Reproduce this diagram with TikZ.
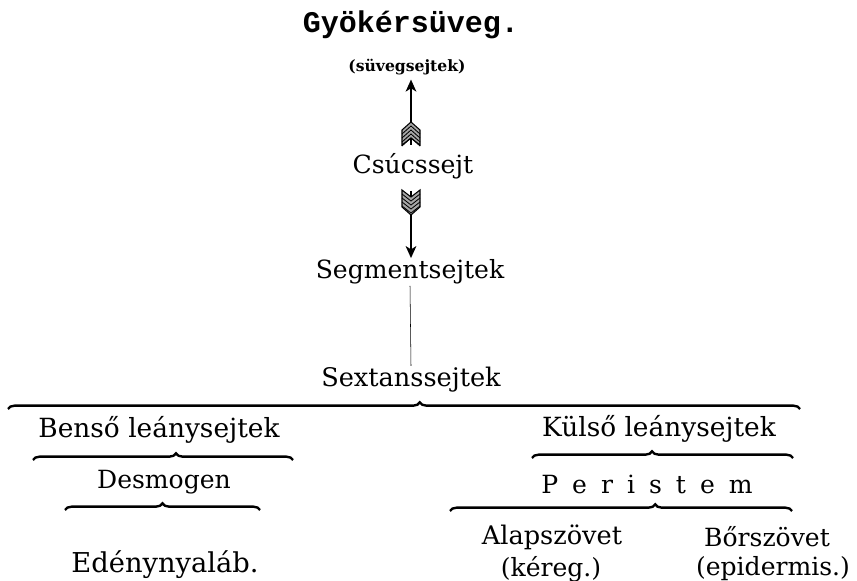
\documentclass[tikz,border=0pt]{standalone}
\usepackage{fontspec}
\setmainfont{DejaVu Serif}
\setmonofont{Liberation Mono}
\usetikzlibrary{decorations.pathreplacing,arrows.meta}

\begin{document}
\begin{tikzpicture}[x=0.75pt,y=-0.75pt,
  label/.style={font=\fontsize{18.8}{21}\selectfont,inner sep=1pt},
  wide/.style={font=\fontsize{19.8}{22}\selectfont,inner sep=1pt},
  shaft/.style={line width=1.4pt,-{Stealth[length=9pt,width=8pt,inset=2.5pt]}},
  vane/.style={line width=0.8pt,fill=black!35},
  curly/.style={decorate,line width=1.8pt,decoration={brace,amplitude=5pt,aspect=#1}}]
\useasboundingbox (0,0) rectangle (857,581);

\node[font=\ttfamily\bfseries\fontsize{22.5}{24}\selectfont] (root) at (411,25) {Gyökérsüveg.};
\node[font=\bfseries\fontsize{11.7}{13}\selectfont] (cells) at (407,67) {(süvegsejtek)};
\node[label] (apex) at (413,166) {Csúcssejt};
\node[label] (seg) at (410,272) {Segmentsejtek};
\node[label,font=\fontsize{19.2}{21}\selectfont] (sext) at (411,380) {Sextanssejtek};
\node[wide] (inner) at (159,430) {Benső leánysejtek};
\node[wide] (outer) at (659,429) {Külső leánysejtek};
\node[label] (desm) at (164,482) {Desmogen};
\node[label] (peri) at (647,484) {\spaceskip=0.56em P e r i s t e m};
\node[label,font=\fontsize{19.2}{21}\selectfont] (alap) at (552,537) {Alapszövet};
\node[label] (kereg) at (551,569) {(kéreg.)};
\node[label] (bor) at (767,537) {Bőrszövet};
\node[label] (epi) at (773,569) {(epidermis.)};
\node[label,font=\fontsize{20.5}{22}\selectfont] (eden) at (165,565) {Edénynyaláb.};

% arrow up to the cap
\coordinate (upfeather) at (411,145);
\draw[shaft] (upfeather) -- (cells.south -| upfeather);
\draw[vane] (402,130) -- (411,122) -- (420,130) -- (420,145) -- (411,138) -- (402,145) -- cycle;
\foreach \d in {0,4,8,12} \draw[line width=0.6pt] (402,134+\d) -- (411,126+\d) -- (420,134+\d);

% arrow down to the segments
\coordinate (downfeather) at (411,191);
\draw[shaft] (downfeather) -- (seg.north -| downfeather);
\draw[vane] (402,190) -- (411,197) -- (420,190) -- (420,207) -- (411,215) -- (402,207) -- cycle;
\foreach \d in {0,4,8,12} \draw[line width=0.6pt] (402,194+\d) -- (411,201+\d) -- (420,194+\d);

\draw[line width=0.4pt] (seg.south) -- (sext.north);

% braces
\draw[curly=0.52] (8,409) -- (800,409);
\draw[curly=0.55] (33,460) -- (293,460);
\draw[curly=0.46] (532,458) -- (793,458);
\draw[curly=0.5] (65,510) -- (260,510);
\draw[curly=0.6] (450,511) -- (792,511);

\end{tikzpicture}
\end{document}
